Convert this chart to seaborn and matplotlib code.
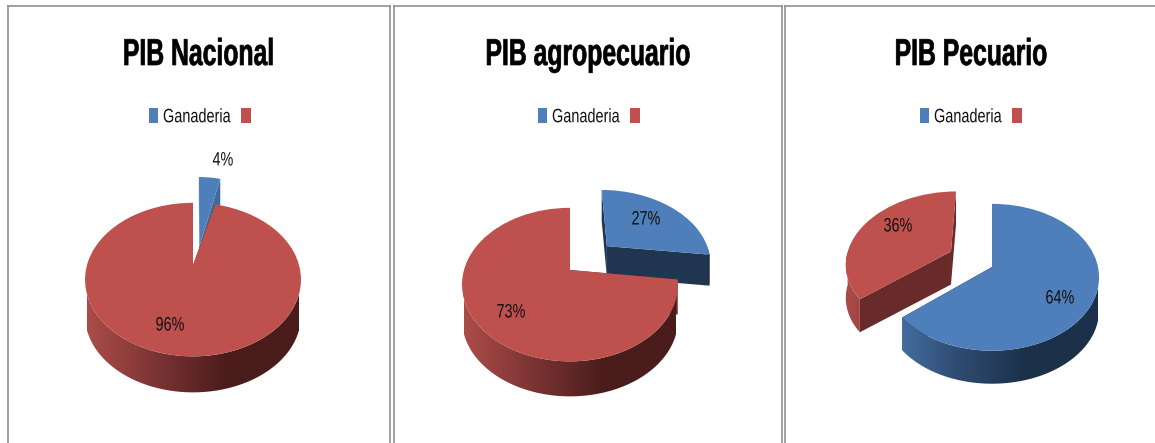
import numpy as np
import matplotlib
matplotlib.use("Agg")
import matplotlib.pyplot as plt
import seaborn as sns
from matplotlib.transforms import Transform, Affine2D
from matplotlib.patches import Polygon
from matplotlib.patheffects import AbstractPathEffect
from matplotlib.colors import LinearSegmentedColormap

titles = ["PIB Nacional", "PIB agropecuario", "PIB Pecuario"]
ganaderia = [4, 27, 64]
resto = [96, 73, 36]
legend_labels = ["Ganaderia", ""]

W, H = 1155, 443
sns.set_theme(style="white")
plt.rcParams["font.family"] = ["Liberation Sans", "DejaVu Sans"]
pal = sns.color_palette(["#4F7FBB", "#BE504D"])
wall_cmaps = [
    LinearSegmentedColormap.from_list("b", ["#4A75AC", "#2F4C72", "#1B3049", "#1B3049"]),
    LinearSegmentedColormap.from_list("r", ["#AC4C49", "#7A3333", "#4A1C1B", "#4A1C1B"]),
]

panels = [
    dict(x0=8, x1=390, cx=193, cy=265, R=106, a=74, c=0.19, d=36, explode=(0.27, 0), main=1,
         nudge=(3, 4), a_exp=90, dexp=28, tx=198.5, lx=149, face=["#3F6A9E", "#692A2A"],
         lab=[(223, 161), (170, 326)]),
    dict(x0=394, x1=782, cx=570, cy=270, R=106, a=74, c=0.19, d=35, explode=(0.45, 0), main=1,
         nudge=(3, -3), a_exp=74, dexp=31, tx=588, lx=538, face=["#1F3550", "#692A2A"],
         lab=[(646, 220), (511, 313)]),
    dict(x0=785, x1=1165, cx=992, cy=267, R=106, a=72, c=0.14, d=33, explode=(0, 0.45), main=0,
         nudge=(1, -2), a_exp=72, dexp=33, tx=971, lx=920, face=["#1F3550", "#692A2A"],
         lab=[(1060, 299), (898, 227)]),
]


class Tilt(Transform):
    """Unit pie plane to figure pixels, with the perspective of a tilted disc."""
    input_dims = 2
    output_dims = 2
    is_separable = False

    def __init__(self, cx, cy, R, a, c):
        super().__init__()
        self.p = (cx, cy, R, a, c)

    def transform_non_affine(self, v):
        cx, cy, R, a, c = self.p
        v = np.asarray(v, float)
        w = 1 + c * v[:, 1]
        return np.column_stack([cx + R * v[:, 0] / w, cy - a * v[:, 1] / w])


class Squeeze(AbstractPathEffect):
    """Condense real text horizontally, as the source's narrow type is."""

    def __init__(self, sx, x0=None, lw=0.0):
        super().__init__()
        self.sx, self.x0, self.lw = sx, x0, lw

    def draw_path(self, renderer, gc, tpath, affine, rgbFace=None):
        x0 = affine.get_matrix()[0, 2] if self.x0 is None else self.x0
        new = affine + Affine2D().translate(-x0, 0).scale(self.sx, 1).translate(x0, 0)
        if self.lw:
            gc.set_linewidth(self.lw)
        renderer.draw_path(gc, tpath, new, rgbFace)


fig = plt.figure(figsize=(W / 100, H / 100), dpi=100, facecolor="white")

for i, p in enumerate(panels):
    top = 6
    ax = fig.add_axes([p["x0"] / W, 0 - 20 / H, (p["x1"] - p["x0"]) / W, (H - top + 20) / H])
    vals = [ganaderia[i], resto[i]]
    wedges, _ = ax.pie(vals, explode=p["explode"], startangle=90, counterclock=False,
                       colors=pal, radius=1, frame=False)
    ax.set_aspect("auto")
    ax.set_axis_on()
    ax.set_frame_on(True)
    ax.set_xticks([])
    ax.set_yticks([])
    ax.set_facecolor("white")
    for name, s in ax.spines.items():
        s.set_visible(name != "bottom")
        s.set_color("#909090")
        s.set_linewidth(1.2)

    for j, w in enumerate(wedges):
        is_main = j == p["main"]
        base = 10 if is_main else 2
        cx = p["cx"] + (0 if is_main else p["nudge"][0])
        cy = p["cy"] + (0 if is_main else p["nudge"][1])
        d = p["d"] if is_main else p["dexp"]
        tr = Tilt(cx, cy, p["R"], p["a"] if is_main else p["a_exp"], p["c"])
        w.set_transform(tr + ax.transData)
        w.set_zorder(base + 2)
        w.set_linewidth(0)
        cxy = np.array(w.center)
        # radial cut faces
        for th in (w.theta1, w.theta2):
            t = np.deg2rad(th)
            rim = cxy + np.array([np.cos(t), np.sin(t)])
            pts = tr.transform_non_affine(np.array([cxy, rim]))
            quad = np.vstack([pts, pts[::-1] + [0, d]])
            ax.add_patch(Polygon(quad, closed=True, fc=p["face"][j], ec="none", zorder=base))
        # outer wall with horizontal shading
        th = np.deg2rad(np.linspace(w.theta1, w.theta2, 400))
        th = th[np.sin(th) <= 0]
        if len(th) > 1:
            arc = cxy + np.column_stack([np.cos(th), np.sin(th)])
            s = tr.transform_non_affine(arc)
            poly = np.vstack([s, s[::-1] + [0, d]])
            x_a = cxy[0] * p["R"] + cx - p["R"]
            x_b = x_a + 2 * p["R"]
            im = ax.imshow(np.linspace(0, 1, 256)[None, :], cmap=wall_cmaps[j], vmin=0, vmax=1,
                           extent=(x_a, x_b, cy + 160, cy - 160), aspect="auto",
                           zorder=base + 1)
            im.set_clip_path(Polygon(poly, closed=True, transform=ax.transData))
    ax.set_xlim(p["x0"], p["x1"])
    ax.set_ylim(H + 20, top)

    ax.text(p["tx"], 65, titles[i], ha="center", va="baseline", fontsize=27,
            fontweight="bold", color="black", zorder=30,
            path_effects=[Squeeze(0.66, p["tx"], lw=0.5)])
    leg = ax.legend(wedges, legend_labels, ncols=2, frameon=False, loc="center left",
                    bbox_to_anchor=(p["lx"], 117), bbox_transform=ax.transData,
                    fontsize=14, handlelength=0.47, handleheight=0.85, handletextpad=0.25,
                    columnspacing=-0.7, borderpad=0, borderaxespad=0, labelcolor="#111111")
    leg.get_texts()[0].set_path_effects([Squeeze(0.745)])
    for v, (lx, ly) in zip(vals, p["lab"]):
        ax.text(lx, ly, f"{v}%", ha="center", va="center", fontsize=14,
                color="#111111", zorder=30, path_effects=[Squeeze(0.74, lx)])

fig.savefig("out.png", dpi=100)
